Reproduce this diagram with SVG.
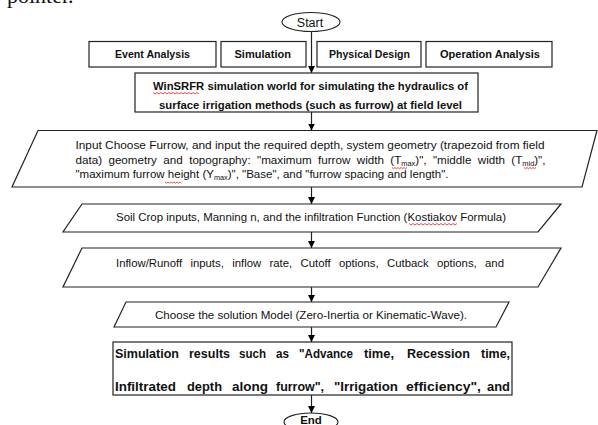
<svg xmlns="http://www.w3.org/2000/svg" width="598" height="425" viewBox="0 0 598 425">
<defs>
<marker id="ah" markerWidth="7" markerHeight="7" refX="7" refY="3.5" orient="auto" markerUnits="userSpaceOnUse">
<path d="M0,0 L7,3.5 L0,7 z" fill="#000"/>
</marker>
<style>
.box{fill:#fff;stroke:#222;stroke-width:1.2}
.term{fill:#fff;stroke:#222;stroke-width:1.1}
.t{font-family:"Liberation Sans",Arial,sans-serif;fill:#111}
.b{font-weight:bold}
.r{font-family:"Liberation Sans",Arial,sans-serif;fill:#111;font-weight:bold;font-size:13px}
.sub{font-size:7px}
.conn{stroke:#222;stroke-width:1.2;fill:none;marker-end:url(#ah)}
.sq{fill:none;stroke:#e02020;stroke-width:0.8}
</style>
</defs>
<rect width="598" height="425" fill="#fff"/>
<text x="7" y="3" font-family="Liberation Serif, serif" font-size="22" fill="#111">pointer.</text>

<g id="connectors">
<line class="conn" x1="311.5" y1="31.5" x2="311.5" y2="73"/>
<line class="conn" x1="311.5" y1="112" x2="311.5" y2="130.5"/>
<line class="conn" x1="311.5" y1="187" x2="311.5" y2="204"/>
<line class="conn" x1="311.5" y1="232" x2="311.5" y2="248"/>
<line class="conn" x1="311.5" y1="287" x2="311.5" y2="302"/>
<line class="conn" x1="311.5" y1="327" x2="311.5" y2="342"/>
<line class="conn" x1="311.5" y1="395" x2="311.5" y2="413"/>
</g>

<g id="start">
<ellipse class="term" cx="311" cy="22" rx="29" ry="9.5"/>
<text class="t" x="310" y="26.5" font-size="12.5" text-anchor="middle">Start</text>
</g>

<g id="event-analysis">
<rect class="box" x="89" y="41.5" width="127" height="25.5"/>
<text class="t b" x="115" y="58" font-size="11.5" textLength="75" lengthAdjust="spacingAndGlyphs">Event Analysis</text>
</g>
<g id="simulation">
<rect class="box" x="221" y="41.5" width="85" height="25.5"/>
<text class="t b" x="234.5" y="58" font-size="11.5" textLength="56.5" lengthAdjust="spacingAndGlyphs">Simulation</text>
</g>
<g id="physical-design">
<rect class="box" x="317" y="41.5" width="104" height="25.5"/>
<text class="t b" x="329" y="58" font-size="11.5" textLength="81" lengthAdjust="spacingAndGlyphs">Physical  Design</text>
</g>
<g id="operation-analysis">
<rect class="box" x="426" y="41.5" width="126" height="25.5"/>
<text class="t b" x="440" y="58" font-size="11.5" textLength="100" lengthAdjust="spacingAndGlyphs">Operation Analysis</text>
</g>

<g id="winsrfr">
<rect class="box" x="135" y="73" width="343" height="39"/>
<text class="t b" x="153" y="89.5" font-size="11" textLength="315" lengthAdjust="spacingAndGlyphs">WinSRFR simulation world for simulating the hydraulics of</text>
<text class="t b" x="159" y="108.5" font-size="11" textLength="303" lengthAdjust="spacingAndGlyphs">surface irrigation methods (such as furrow) at field level</text>
<path class="sq" d="M153,92.5 l2,1.5 l2,-1.5 l2,1.5 l2,-1.5 l2,1.5 l2,-1.5 l2,1.5 l2,-1.5 l2,1.5 l2,-1.5 l2,1.5 l2,-1.5 l2,1.5 l2,-1.5 l2,1.5 l2,-1.5 l2,1.5 l2,-1.5 l2,1.5 l2,-1.5 l2,1.5 l2,-1.5 l2,1.5"/>
</g>

<g id="input-furrow">
<polygon class="box" points="38,130.5 597,130.5 582,187 12,187"/>
<text class="t" x="75.5" y="149" font-size="11" textLength="469" lengthAdjust="spacingAndGlyphs">Input Choose Furrow, and input the required depth, system geometry (trapezoid from field</text>
<text class="t" x="75.5" y="163.5" font-size="11" word-spacing="3" textLength="470" lengthAdjust="spacingAndGlyphs">data) geometry and topography: "maximum furrow width (T<tspan class="sub" dy="2">max</tspan><tspan dy="-2">)", "middle width (T</tspan><tspan class="sub" dy="2">mid</tspan><tspan dy="-2">)",</tspan></text>
<text class="t" x="75.5" y="178" font-size="11" textLength="373" lengthAdjust="spacingAndGlyphs">"maximum furrow height (Y<tspan class="sub" dy="2">max</tspan><tspan dy="-2">)", "Base", and "furrow spacing and length".</tspan></text>
<path class="sq" d="M392,167.5 l1.5,1.2 l1.5,-1.2 l1.5,1.2 l1.5,-1.2 l1.5,1.2 l1.5,-1.2 l1.5,1.2 l1.5,-1.2 l1.5,1.2 l1.5,-1.2"/>
<path class="sq" d="M524,167.5 l1.5,1.2 l1.5,-1.2 l1.5,1.2 l1.5,-1.2 l1.5,1.2 l1.5,-1.2 l1.5,1.2 l1.5,-1.2"/>
<path class="sq" d="M165,182 l1.5,1.2 l1.5,-1.2 l1.5,1.2 l1.5,-1.2 l1.5,1.2 l1.5,-1.2 l1.5,1.2 l1.5,-1.2 l1.5,1.2 l1.5,-1.2 l1.5,1.2"/>
</g>

<g id="soil-crop">
<polygon class="box" points="82,204 561,204 538,232 63,232"/>
<text class="t" x="116" y="221" font-size="11" textLength="390" lengthAdjust="spacingAndGlyphs">Soil Crop inputs, Manning n, and the infiltration Function (Kostiakov Formula)</text>
<path class="sq" d="M409,223.5 l2,1.5 l2,-1.5 l2,1.5 l2,-1.5 l2,1.5 l2,-1.5 l2,1.5 l2,-1.5 l2,1.5 l2,-1.5 l2,1.5 l2,-1.5 l2,1.5 l2,-1.5 l2,1.5 l2,-1.5 l2,1.5 l2,-1.5 l2,1.5 l2,-1.5 l2,1.5 l2,-1.5 l2,1.5 l2,-1.5"/>
</g>

<g id="inflow-runoff">
<polygon class="box" points="82,248 561,248 538,287 63,287"/>
<text class="t" x="116" y="267" font-size="11" word-spacing="5" textLength="388" lengthAdjust="spacingAndGlyphs">Inflow/Runoff inputs, inflow rate, Cutoff options, Cutback options, and</text>
</g>

<g id="solution-model">
<polygon class="box" points="126,302 509,302 496,327 114,327"/>
<text class="t" x="155" y="319" font-size="11" textLength="312" lengthAdjust="spacingAndGlyphs">Choose the solution Model (Zero-Inertia or Kinematic-Wave).</text>
</g>

<g id="results">
<rect class="box" x="113" y="342" width="399" height="53"/>
<text class="r" x="115" y="357.5" textLength="64" lengthAdjust="spacingAndGlyphs">Simulation</text>
<text class="r" x="189" y="357.5" textLength="41" lengthAdjust="spacingAndGlyphs">results</text>
<text class="r" x="239" y="357.5" textLength="27" lengthAdjust="spacingAndGlyphs">such</text>
<text class="r" x="276" y="357.5" textLength="13" lengthAdjust="spacingAndGlyphs">as</text>
<text class="r" x="299" y="357.5" textLength="54" lengthAdjust="spacingAndGlyphs">"Advance</text>
<text class="r" x="364" y="357.5" textLength="30" lengthAdjust="spacingAndGlyphs">time,</text>
<text class="r" x="407" y="357.5" textLength="63" lengthAdjust="spacingAndGlyphs">Recession</text>
<text class="r" x="481" y="357.5" textLength="29" lengthAdjust="spacingAndGlyphs">time,</text>
<text class="r" x="115" y="390.5" textLength="61" lengthAdjust="spacingAndGlyphs">Infiltrated</text>
<text class="r" x="187" y="390.5" textLength="35" lengthAdjust="spacingAndGlyphs">depth</text>
<text class="r" x="232" y="390.5" textLength="36" lengthAdjust="spacingAndGlyphs">along</text>
<text class="r" x="276" y="390.5" textLength="48" lengthAdjust="spacingAndGlyphs">furrow",</text>
<text class="r" x="334" y="390.5" textLength="64" lengthAdjust="spacingAndGlyphs">"Irrigation</text>
<text class="r" x="406" y="390.5" textLength="75" lengthAdjust="spacingAndGlyphs">efficiency",</text>
<text class="r" x="487" y="390.5" textLength="23" lengthAdjust="spacingAndGlyphs">and</text>
</g>

<g id="end">
<ellipse class="term" cx="311" cy="422" rx="27" ry="9"/>
<text class="t b" x="311" y="423.5" font-size="11.5" text-anchor="middle">End</text>
</g>
</svg>
